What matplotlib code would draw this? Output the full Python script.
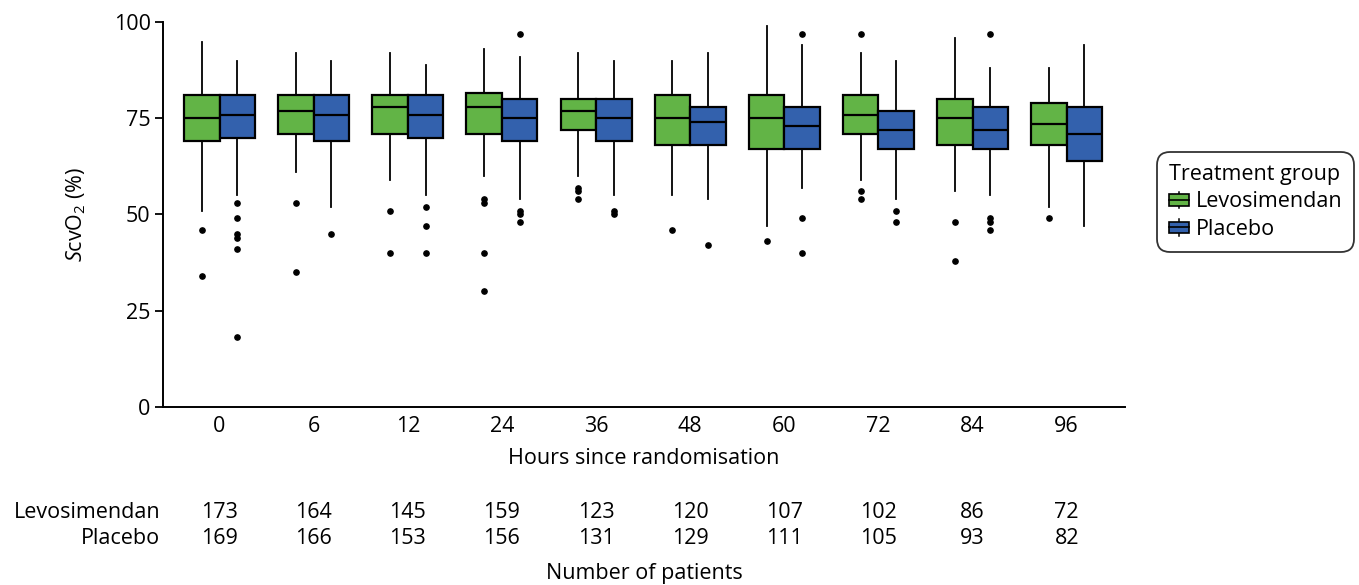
import matplotlib

matplotlib.use("Agg")
import matplotlib.pyplot as plt
import matplotlib.transforms as mtransforms
from matplotlib.legend_handler import HandlerBase
from matplotlib.lines import Line2D
from matplotlib.patches import Patch, Rectangle

plt.rcParams["font.family"] = ["Open Sans", "DejaVu Sans"]
plt.rcParams["mathtext.fontset"] = "custom"
plt.rcParams["mathtext.rm"] = "Open Sans"
plt.rcParams["mathtext.it"] = "Open Sans:italic"

HOURS = ["0", "6", "12", "24", "36", "48", "60", "72", "84", "96"]
LEVO_N = [173, 164, 145, 159, 123, 120, 107, 102, 86, 72]
PLAC_N = [169, 166, 153, 156, 131, 129, 111, 105, 93, 82]

# ScvO2 box summaries per time point
LEVO_LO = [51, 61, 59, 60, 60, 55, 47, 59, 56, 52]
LEVO_Q1 = [69, 71, 71, 71, 72, 68, 67, 71, 68, 68]
LEVO_MED = [75, 77, 78, 78, 77, 75, 75, 76, 75, 73.5]
LEVO_Q3 = [81, 81, 81, 81.5, 80, 81, 81, 81, 80, 79]
LEVO_HI = [95, 92, 92, 93, 92, 90, 99, 92, 96, 88]
LEVO_OUT = [[46, 34], [53, 35], [51, 40], [54, 53, 40, 30], [57, 56, 54],
            [46], [43], [97, 56, 54], [48, 38], [49]]

PLAC_LO = [55, 52, 55, 54, 55, 54, 57, 54, 55, 47]
PLAC_Q1 = [70, 69, 70, 69, 69, 68, 67, 67, 67, 64]
PLAC_MED = [76, 76, 76, 75, 75, 74, 73, 72, 72, 71]
PLAC_Q3 = [81, 81, 81, 80, 80, 78, 78, 77, 78, 78]
PLAC_HI = [90, 90, 89, 91, 90, 92, 94, 90, 88, 94]
PLAC_OUT = [[53, 49, 45, 44, 41, 18], [45], [52, 47, 40], [97, 51, 50, 48],
            [51, 50], [42], [97, 49, 40], [51, 48], [97, 49, 48, 46], []]

GREEN = "#62b446"
BLUE = "#3361ad"
FS = 15.5


def _stats(lo, q1, med, q3, hi, out):
    return [dict(whislo=a, q1=b, med=c, q3=d, whishi=e, fliers=f)
            for a, b, c, d, e, f in zip(lo, q1, med, q3, hi, out)]


class BoxKeyHandler(HandlerBase):
    """Small boxplot glyph for the legend keys."""

    def create_artists(self, legend, orig_handle, xdescent, ydescent,
                       width, height, fontsize, trans):
        cx = -xdescent + width / 2
        bw, bh = width * 0.95, height * 0.7
        x0 = cx - bw / 2
        y0 = -ydescent + (height - bh) / 2
        box = Rectangle((x0, y0), bw, bh, facecolor=orig_handle.get_facecolor(),
                        edgecolor="black", lw=1.2, transform=trans)
        med = Line2D([x0, x0 + bw], [y0 + bh / 2] * 2, color="black", lw=1.2,
                     transform=trans)
        wl = Line2D([cx, cx], [-ydescent, y0], color="black", lw=1.1,
                    transform=trans)
        wh = Line2D([cx, cx], [y0 + bh, -ydescent + height], color="black",
                    lw=1.1, transform=trans)
        return [wl, wh, box, med]


fig = plt.figure(figsize=(13.59, 5.85), dpi=100)
ax = fig.add_axes([0.12, 0.3048, 0.7078, 0.6571])

idx = list(range(len(HOURS)))
w = 0.377
box_kw = dict(widths=w, patch_artist=True, showcaps=False,
              boxprops=dict(edgecolor="black", linewidth=1.6),
              medianprops=dict(color="black", linewidth=1.6),
              whiskerprops=dict(color="black", linewidth=1.3),
              flierprops=dict(marker="o", markerfacecolor="black",
                              markeredgecolor="black", markersize=3.8))

for stats, offset, color in [
    (_stats(LEVO_LO, LEVO_Q1, LEVO_MED, LEVO_Q3, LEVO_HI, LEVO_OUT), -w / 2, GREEN),
    (_stats(PLAC_LO, PLAC_Q1, PLAC_MED, PLAC_Q3, PLAC_HI, PLAC_OUT), w / 2, BLUE),
]:
    art = ax.bxp(stats, positions=[i + offset for i in idx], **box_kw)
    for b in art["boxes"]:
        b.set_facecolor(color)

ax.set_xlim(-0.6, 9.62)
ax.set_ylim(0, 100)
ax.set_yticks([0, 25, 50, 75, 100])
ax.set_xticks(idx)
ax.set_xticklabels(HOURS)
ax.tick_params(axis="x", length=0, pad=7, labelsize=FS)
ax.tick_params(axis="y", length=6, width=1.3, pad=3, labelsize=FS)
for side in ["top", "right"]:
    ax.spines[side].set_visible(False)
for side in ["left", "bottom"]:
    ax.spines[side].set_linewidth(1.4)

ax.set_ylabel(r"$\it{S}$cvO$_2$ (%)", fontsize=FS)
ax.yaxis.set_label_coords(-0.078, 0.5)
fig.text(644 / 1359, 1 - 459 / 585, "Hours since randomisation",
         ha="center", va="center", fontsize=FS)

# patients-at-risk table under the axis
tr = mtransforms.blended_transform_factory(ax.transData, fig.transFigure)
for label, counts, yf in [("Levosimendan", LEVO_N, 1 - 512 / 585),
                          ("Placebo", PLAC_N, 1 - 539 / 585)]:
    fig.text(160 / 1359, yf, label, ha="right", va="center", fontsize=FS)
    for i, n in zip(idx, counts):
        ax.text(i, yf, str(n), transform=tr, ha="center", va="center",
                fontsize=FS, clip_on=False)
fig.text(644 / 1359, 1 - 573 / 585, "Number of patients",
         ha="center", va="center", fontsize=FS)

handles = [Patch(facecolor=GREEN, label="Levosimendan"),
           Patch(facecolor=BLUE, label="Placebo")]
leg = fig.legend(handles=handles, title="Treatment group",
                 loc="upper left", bbox_to_anchor=(1157 / 1359, 1 - 152 / 585),
                 handler_map={Patch: BoxKeyHandler()},
                 fontsize=FS, title_fontsize=FS, frameon=True, fancybox=True,
                 handlelength=0.95, handleheight=0.8, handletextpad=0.3,
                 labelspacing=0.3, borderpad=0.55, borderaxespad=0,
                 alignment="left")
frame = leg.get_frame()
frame.set_edgecolor("black")
frame.set_linewidth(1.3)
frame.set_boxstyle("round,pad=0,rounding_size=0.6")

fig.savefig("out.png", dpi=100)
